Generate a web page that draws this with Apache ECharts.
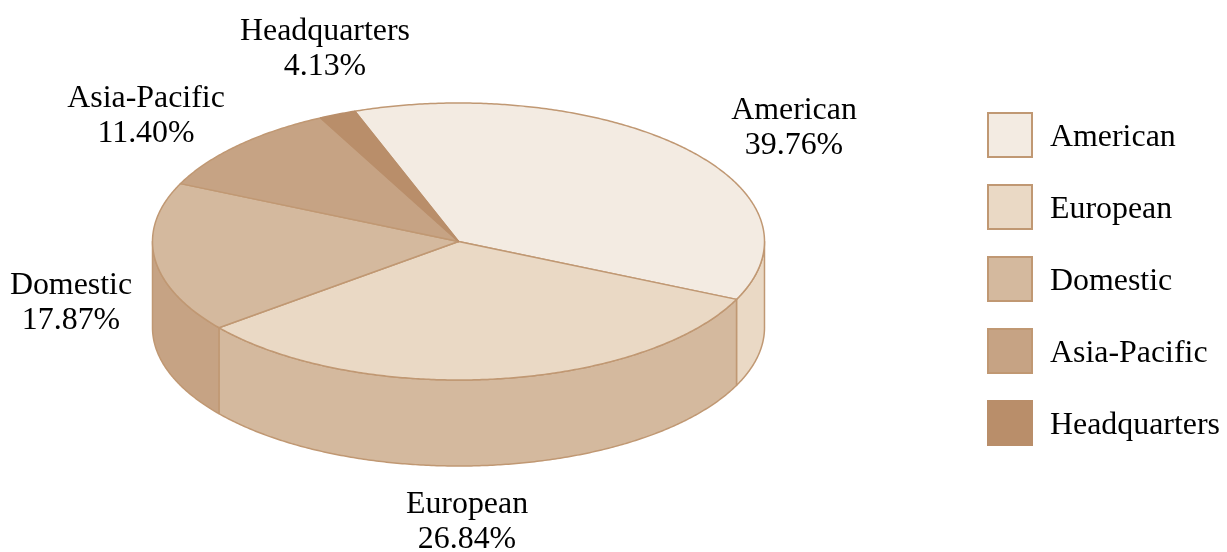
<!DOCTYPE html>
<html>
<head>
<meta charset="utf-8">
<title>Revenue by region</title>
<script src="https://cdn.jsdelivr.net/npm/echarts@6/dist/echarts.min.js"></script>
<style>
    html, body {margin: 0; padding: 0; background: #fff;}
    #chart {width: 1227px; height: 552px;}
</style>
</head>
<body>
<div id="chart"></div>
<script>
const regions = ['American', 'European', 'Domestic', 'Asia-Pacific', 'Headquarters'];
// the printed labels
const percents = ['39.76%', '26.84%', '17.87%', '11.40%', '4.13%'];
// slice sizes as drawn in the picture, they don't follow the printed labels exactly
const drawnShares = [37.36, 32.45, 17.55, 10.70, 1.94];
const colors = ['#F3EBE2', '#EAD9C5', '#D4B99E', '#C6A384', '#B98E6A'];
const labelCenters = [[794, 126], [467, 520], [71, 301], [146, 114], [325, 47]];

const lineColor = '#C09873';
const font = '"Liberation Serif", "Times New Roman", serif';
const fontSize = 31.9;
const pie = {cx: 458.5, cy: 241.5, rx: 306, ry: 138.5, depth: 86, start: -19.8};

// angle is in degrees, clockwise from the top of the ellipse
function rim(angle, drop) {
    const rad = angle * Math.PI / 180;
    return [pie.cx + pie.rx * Math.sin(rad), pie.cy - pie.ry * Math.cos(rad) + drop];
}

function arc(from, to, drop) {
    const points = [];
    const steps = Math.max(2, Math.ceil((to - from) * 2));
    for (let i = 0; i <= steps; i++) {
        points.push(rim(from + (to - from) * i / steps, drop));
    }
    return points;
}

function sliceRange(index) {
    const total = drawnShares.reduce((a, b) => a + b, 0);
    const before = drawnShares.slice(0, index).reduce((a, b) => a + b, 0);
    return [
        pie.start + before / total * 360,
        pie.start + (before + drawnShares[index]) / total * 360
    ];
}

function edgeColor(index) {
    // the last slice has no visible outline of its own
    return index === regions.length - 1 ? colors[index] : lineColor;
}

function render_slice(params, api) {
    const index = params.seriesIndex;
    const [from, to] = sliceRange(index);
    const children = [];

    // the wall only shows on the front half, and takes the next slice's colour
    const wallFrom = Math.max(from, 90);
    const wallTo = Math.min(to, 270);
    if (wallTo > wallFrom) {
        children.push({
            type: 'polygon',
            z2: 1,
            shape: {points: arc(wallFrom, wallTo, 0).concat(arc(wallFrom, wallTo, pie.depth).reverse())},
            style: {fill: colors[index + 1], stroke: lineColor, lineWidth: 1.5, lineJoin: 'round'}
        });
    }

    children.push({
        type: 'polygon',
        z2: 2,
        shape: {points: [[pie.cx, pie.cy]].concat(arc(from, to, 0))},
        style: {fill: colors[index], stroke: edgeColor(index), lineWidth: 1.5, lineJoin: 'round'}
    });

    children.push({
        type: 'text',
        z2: 5,
        style: {
            x: labelCenters[index][0],
            y: labelCenters[index][1] + 2,
            text: regions[index] + '\n' + percents[index],
            fill: '#000',
            fontFamily: font,
            fontSize: fontSize,
            lineHeight: 35,
            align: 'center',
            verticalAlign: 'middle'
        }
    });

    return {type: 'group', children: children};
}

const chart = echarts.init(document.getElementById('chart'), null, {renderer: 'canvas'});

const series = regions.map((name, i) => ({
    name: name,
    type: 'custom',
    coordinateSystem: 'none',
    renderItem: render_slice,
    silent: true,
    animation: false,
    itemStyle: {color: colors[i], borderColor: edgeColor(i), borderWidth: 1.2},
    data: [drawnShares[i]]
}));

const option = {
    backgroundColor: '#fff',
    animation: false,
    legend: {
        orient: 'vertical',
        left: 987,
        top: 112,
        padding: 0,
        itemWidth: 44,
        itemHeight: 44,
        itemGap: 26,
        icon: 'rect',
        selectedMode: false,
        data: regions,
        formatter: '{a|{name}}',
        textStyle: {
            color: '#000',
            fontFamily: font,
            fontSize: fontSize,
            rich: {
                a: {
                    color: '#000',
                    fontFamily: font,
                    fontSize: fontSize,
                    padding: [6, 0, 0, 13]
                }
            }
        }
    },
    series: series
};

chart.setOption(option);
</script>
</body>
</html>
